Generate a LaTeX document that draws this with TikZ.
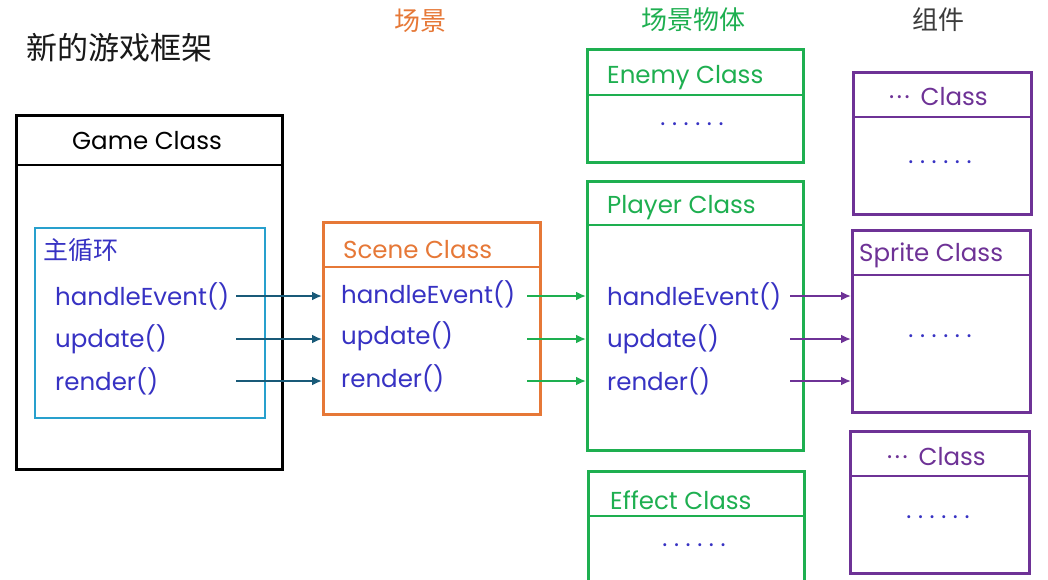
\documentclass[tikz,border=0pt]{standalone}
\usepackage{fontspec}
\setmainfont{Poppins}
\newfontfamily\cjk{Noto Sans CJK SC}
\usetikzlibrary{arrows.meta}
\definecolor{txtblue}{RGB}{55,50,195}
\definecolor{loopblue}{RGB}{40,160,205}
\definecolor{scorange}{RGB}{230,120,55}
\definecolor{objgreen}{RGB}{30,175,80}
\definecolor{cmppurple}{RGB}{110,50,150}
\definecolor{tealarr}{RGB}{25,90,120}
\definecolor{titleblack}{RGB}{25,25,25}
\definecolor{hdrgray}{RGB}{60,60,60}
\newcommand{\sixdots}{.\hspace{6.6pt}.\hspace{6.6pt}.\hspace{6.6pt}.\hspace{6.6pt}.\hspace{6.6pt}.}
\newcommand{\threedots}{\raisebox{7pt}{.\hspace{2.5pt}.\hspace{2.5pt}.}\hspace{11pt}}
\tikzset{
  cbox/.style={draw, line width=2.6pt, inner sep=0pt, anchor=north west},
  lbl/.style={anchor=west, inner sep=0pt, font=\fontsize{24.5}{28}\selectfont},
  meth/.style={lbl, text=txtblue},
  dots/.style={inner sep=0pt, text=txtblue, font=\fontsize{24}{28}\selectfont},
  cjkhdr/.style={inner sep=0pt, font=\cjk\fontsize{26}{30}\selectfont},
  arr/.style={line width=2.8pt, -{Latex[length=10pt,width=9pt]}},
}
\begin{document}
\begin{tikzpicture}[x=1pt,y=-1pt]
\useasboundingbox (0,0) rectangle (1048,579);
\clip (0,0) rectangle (1048,579);
\fill[white] (0,0) rectangle (1048,579);

% headings
\node[cjkhdr, anchor=west, text=titleblack, font=\cjk\fontsize{31}{35}\selectfont] (title) at (26,48) {新的游戏框架};
\node[cjkhdr, text=scorange] (hscene) at (420,21) {场景};
\node[cjkhdr, text=objgreen] (hobj) at (693,20) {场景物体};
\node[cjkhdr, text=hdrgray] (hcmp) at (938,20) {组件};

% Game class
\node[cbox, draw=black, line width=2.8pt, minimum width=266pt, minimum height=354pt] (game) at (15,114) {};
\draw[black, line width=2.8pt] ([yshift=-51pt]game.north west) -- ([yshift=-51pt]game.north east);
\node[lbl, anchor=center, text=black] (gname) at (147,141) {Game Class};
\node[cbox, draw=loopblue, line width=2.2pt, minimum width=230pt, minimum height=190pt] (loop) at (34,227) {};
\node[lbl, text=txtblue, font=\cjk\fontsize{25}{29}\selectfont] (loopname) at (43,250) {主循环};
\node[meth] (ghe) at (55,296) {handleEvent()};
\node[meth] (gup) at (55,339) {update()};
\node[meth] (gre) at (55,381) {render()};

% Scene class
\node[cbox, draw=scorange, minimum width=217pt, minimum height=192pt] (scene) at (322,221) {};
\draw[scorange, line width=2.6pt] ([yshift=-46pt]scene.north west) -- ([yshift=-46pt]scene.north east);
\node[lbl, text=scorange] (sname) at (343,250) {Scene Class};
\node[meth] (she) at (341,294) {handleEvent()};
\node[meth] (sup) at (341,336) {update()};
\node[meth] (sre) at (341,378) {render()};

% Enemy class
\node[cbox, draw=objgreen, minimum width=216pt, minimum height=113pt] (enemy) at (586,48) {};
\draw[objgreen, line width=2.6pt] ([yshift=-47pt]enemy.north west) -- ([yshift=-47pt]enemy.north east);
\node[lbl, text=objgreen] (ename) at (607,78) {Enemy Class};
\node[dots] (edots) at (692,124) {\sixdots};

% Player class
\node[cbox, draw=objgreen, minimum width=216pt, minimum height=269pt] (player) at (586,180) {};
\draw[objgreen, line width=2.6pt] ([yshift=-45pt]player.north west) -- ([yshift=-45pt]player.north east);
\node[lbl, text=objgreen] (pname) at (607,208) {Player Class};
\node[meth] (phe) at (607,296) {handleEvent()};
\node[meth] (pup) at (607,339) {update()};
\node[meth] (pre) at (607,381) {render()};

% Effect class
\node[cbox, draw=objgreen, minimum width=216pt, minimum height=140pt] (effect) at (587,470) {};
\draw[objgreen, line width=2.6pt] ([yshift=-46pt]effect.north west) -- ([yshift=-46pt]effect.north east);
\node[lbl, text=objgreen] (efname) at (610,500) {Effect Class};
\node[dots] (efdots) at (694,545) {\sixdots};

% Component classes
\node[cbox, draw=cmppurple, minimum width=178pt, minimum height=142pt] (cmpa) at (852,71) {};
\draw[cmppurple, line width=2.6pt] ([yshift=-46pt]cmpa.north west) -- ([yshift=-46pt]cmpa.north east);
\node[lbl, text=cmppurple] (caname) at (889,97) {\threedots Class};
\node[dots] (cadots) at (940,162) {\sixdots};

\node[cbox, draw=cmppurple, minimum width=178pt, minimum height=182pt] (sprite) at (851,229) {};
\draw[cmppurple, line width=2.6pt] ([yshift=-46pt]sprite.north west) -- ([yshift=-46pt]sprite.north east);
\node[lbl, text=cmppurple] (spname) at (859,255) {Sprite Class};
\node[dots] (spdots) at (940,336) {\sixdots};

\node[cbox, draw=cmppurple, minimum width=179pt, minimum height=142pt] (cmpc) at (849,430) {};
\draw[cmppurple, line width=2.6pt] ([yshift=-46pt]cmpc.north west) -- ([yshift=-46pt]cmpc.north east);
\node[lbl, text=cmppurple] (ccname) at (887,457) {\threedots Class};
\node[dots] (ccdots) at (938,517) {\sixdots};

% arrow start coordinates
\coordinate (t0) at (236,0);
\coordinate (g0) at (527,0);
\coordinate (p0) at (790,0);

\draw[arr, tealarr] (t0 |- ghe.east) -- (scene.west |- ghe.east);
\draw[arr, tealarr] (t0 |- gup.east) -- (scene.west |- gup.east);
\draw[arr, tealarr] (t0 |- gre.east) -- (scene.west |- gre.east);

\draw[arr, objgreen] (g0 |- phe.east) -- (player.west |- phe.east);
\draw[arr, objgreen] (g0 |- pup.east) -- (player.west |- pup.east);
\draw[arr, objgreen] (g0 |- pre.east) -- (player.west |- pre.east);

\draw[arr, cmppurple] (p0 |- phe.east) -- (sprite.west |- phe.east);
\draw[arr, cmppurple] (p0 |- pup.east) -- (sprite.west |- pup.east);
\draw[arr, cmppurple] (p0 |- pre.east) -- (sprite.west |- pre.east);
\end{tikzpicture}
\end{document}
